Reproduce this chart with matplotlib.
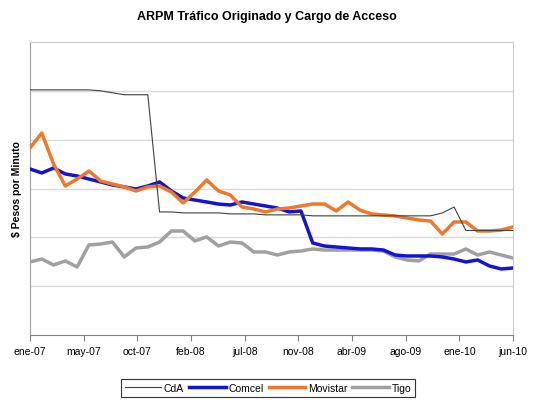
import matplotlib
matplotlib.use("Agg")
import matplotlib.pyplot as plt
import numpy as np

plt.rcParams['font.family'] = ['Liberation Sans', 'DejaVu Sans']

# meses ene-07 .. jun-10 (42 puntos)
meses = np.arange(42)
etiquetas = ["ene-07", "may-07", "oct-07", "feb-08", "jul-08",
             "nov-08", "abr-09", "ago-09", "ene-10", "jun-10"]

cda = [251, 251, 251, 251, 251, 251, 250, 248, 246, 246, 246, 126,
       126, 125, 125, 125, 125, 124, 124, 124, 123, 123, 123, 123,
       122, 122, 122, 122, 122, 122, 122, 122, 122, 122, 122, 125,
       131, 107, 107, 107, 107, 107]
comcel = [170.0, 165.9, 171.0, 164.9, 162.8, 159.7, 156.7, 153.6, 151.6, 149.5,
          152.6, 156.7, 147.5, 140.3, 138.2, 136.2, 134.1, 133.1, 136.2, 134.1,
          132.1, 130.0, 126.0, 127.0, 94.2, 91.1, 90.1, 89.1, 88.1, 88.1,
          87.0, 81.9, 80.9, 80.9, 80.9, 79.9, 77.8, 74.8, 76.8, 70.7,
          67.6, 68.6]
movistar = [191.5, 206.8, 175.1, 152.6, 159.7, 167.9, 157.7, 154.6, 151.6, 147.5,
            151.6, 152.6, 146.4, 135.2, 146.4, 158.7, 147.5, 143.4, 131.1, 129.0,
            126.0, 129.0, 130.0, 132.1, 134.1, 134.1, 127.0, 136.2, 128.0, 123.9,
            122.9, 121.9, 119.8, 117.8, 116.7, 103.4, 115.7, 115.7, 106.5, 106.5,
            107.5, 110.6]
tigo = [74.8, 77.8, 71.7, 75.8, 69.6, 92.2, 93.2, 95.2, 79.9, 89.1,
        90.1, 95.2, 106.5, 106.5, 96.3, 100.4, 91.1, 95.2, 94.2, 85.0,
        85.0, 81.9, 85.0, 86.0, 88.1, 87.0, 87.0, 87.0, 87.0, 87.0,
        86.0, 79.9, 76.8, 75.8, 82.9, 82.9, 82.9, 88.1, 81.9, 85.0,
        81.9, 78.8]

fig = plt.figure(figsize=(5.33, 4.06), dpi=100)
ax = fig.add_axes([30 / 533, 70 / 406, 483 / 533, 293 / 406])

ax.plot(meses, cda, color="#404040", lw=0.8, label="CdA", zorder=5)
ax.plot(meses, comcel, color="#1414D8", lw=2.5, label="Comcel", zorder=3)
ax.plot(meses, movistar, color="#F07828", lw=2.5, label="Movistar", zorder=4)
ax.plot(meses, tigo, color="#A0A0A0", lw=2.5, label="Tigo", zorder=2)

ax.set_xlim(0, 41)
ax.set_ylim(0, 300)
ax.set_yticks(np.arange(50, 300, 50))
ax.tick_params(axis='y', length=0, labelleft=False)
ax.yaxis.grid(True, color="#DADADA", lw=1)
ax.set_xticks(np.linspace(0, 41, len(etiquetas)), etiquetas)
ax.tick_params(axis='x', labelsize=7.5, length=4, color="#808080", pad=4)

for s in ax.spines.values():
    s.set_color("#CCCCCC")
ax.spines['bottom'].set_color("#808080")
ax.spines['left'].set_color("#A0A0A0")

ax.set_ylabel("$ Pesos por Minuto", fontsize=7.5, fontweight='bold', labelpad=6)
fig.suptitle("ARPM Tráfico Originado y Cargo de Acceso", fontsize=9,
             fontweight='bold', y=1 - 17 / 406, va='center')

leg = fig.legend(loc='center', bbox_to_anchor=(268 / 533, 1 - 389 / 406), ncol=4,
                 fontsize=7.5, frameon=True, fancybox=False, edgecolor="#000000",
                 handlelength=3.5, handletextpad=0.25, columnspacing=0.5,
                 borderpad=0.35)
leg.get_frame().set_linewidth(0.8)

plt.savefig("out.png", dpi=100)
